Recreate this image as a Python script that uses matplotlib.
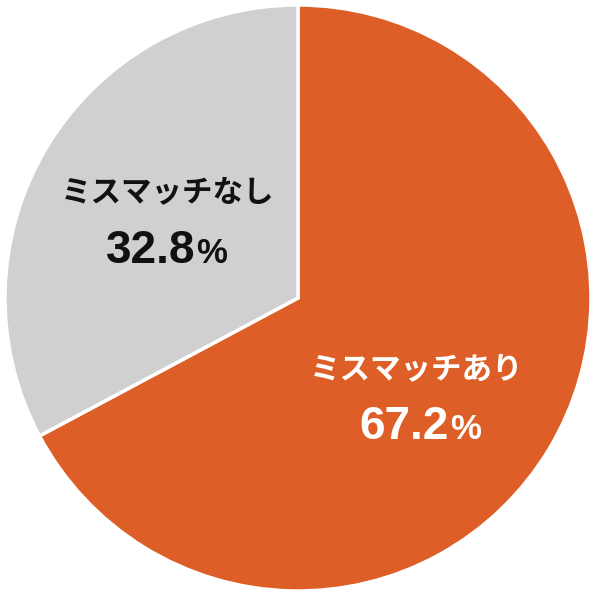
import matplotlib
matplotlib.use("Agg")
import matplotlib.pyplot as plt
from matplotlib.offsetbox import TextArea, HPacker, AnnotationBbox

categories = ["ミスマッチあり", "ミスマッチなし"]
values = [67.2, 32.8]
colors = ["#DD5F27", "#D0D0D0"]
text_colors = ["white", "#111111"]

fig = plt.figure(figsize=(5.96, 5.96), dpi=100)
ax = fig.add_axes([0, 0, 1, 1])
ax.pie(values, colors=colors, startangle=90, counterclock=False, radius=1.0,
       wedgeprops=dict(edgecolor="white", linewidth=2.5))
lim = 298 / 293
ax.set_xlim(-lim, lim)
ax.set_ylim(-lim, lim)
ax.set_aspect("equal")
ax.axis("off")

label_pos = [(0.406, -0.246), (-0.444, 0.358)]
num_pos = [(0.416, -0.440), (-0.449, 0.162)]

for cat, v, tc, lp, npos in zip(categories, values, text_colors, label_pos, num_pos):
    ax.text(lp[0], lp[1], cat, ha="center", va="center", fontsize=22,
            fontweight="bold", color=tc, family=["Noto Sans CJK JP", "DejaVu Sans"])
    t1 = TextArea(f"{v:.1f}", textprops=dict(fontsize=33, fontweight="bold", color=tc,
                                           family="Liberation Sans"))
    t2 = TextArea("%", textprops=dict(fontsize=25, fontweight="bold", color=tc,
                                      family="Liberation Sans"))
    box = HPacker(children=[t1, t2], align="baseline", pad=0, sep=1)
    ab = AnnotationBbox(box, npos, xycoords="data", frameon=False, box_alignment=(0.5, 0.5))
    ax.add_artist(ab)

fig.savefig("out.png", dpi=100)
